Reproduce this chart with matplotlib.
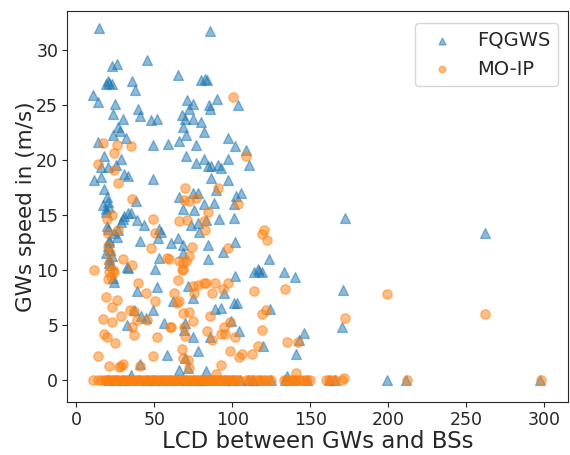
import matplotlib
matplotlib.use("Agg")
import matplotlib.pyplot as plt
import seaborn as sns
import numpy as np

# FQGWS points (LCD, speed)
fq_points = [
    (14.7, 32.0), (85.8, 31.8), (45.2, 29.1), (22.9, 28.6), (25.8, 28.8), (20.0, 27.2), (19.0, 26.9),
    (22.9, 26.9), (21.2, 27.0), (35.7, 27.2), (37.6, 26.4), (10.7, 25.9), (13.7, 25.3), (24.8, 25.1),
    (23.7, 24.2), (29.9, 23.8), (39.5, 24.7), (40.8, 24.0), (47.9, 23.7), (51.9, 23.8), (26.5, 23.0),
    (28.0, 22.7), (23.7, 22.3), (31.9, 22.0), (13.7, 21.7), (48.9, 21.4), (59.0, 21.5),
    (64.9, 27.8), (79.9, 27.3), (82.7, 27.4), (83.5, 27.3), (89.9, 25.6), (103.8, 25.0), (70.7, 25.5),
    (74.5, 25.1), (72.0, 24.7), (84.8, 25.0), (85.9, 24.7), (67.7, 24.1), (69.9, 23.8), (74.5, 23.8),
    (79.9, 23.5), (68.2, 23.0), (70.3, 22.3), (81.6, 22.6), (66.0, 21.8), (76.7, 21.4), (97.0, 22.0),
    (101.9, 21.3),
    (17.9, 20.4), (28.6, 20.1), (15.8, 19.4), (20.1, 19.4), (25.4, 19.6), (30.3, 18.8), (32.9, 18.6),
    (11.5, 18.2), (15.8, 18.5), (48.9, 18.3), (17.5, 17.4), (19.4, 16.7), (20.1, 16.2), (16.9, 15.9),
    (21.2, 15.8), (19.0, 15.6), (38.2, 16.3), (32.9, 15.2), (35.1, 15.2), (30.8, 14.9), (28.7, 14.4),
    (38.9, 14.6), (43.6, 14.1), (54.3, 13.5), (52.1, 12.9), (19.4, 14.0), (24.4, 13.4), (25.8, 13.0),
    (20.7, 12.6), (20.1, 12.2), (21.6, 11.8), (22.9, 11.3), (21.2, 10.7), (40.8, 12.7), (60.7, 12.5),
    (53.2, 11.1), (32.5, 10.3), (50.6, 10.1),
    (108.8, 20.9), (70.3, 20.4), (76.7, 19.8), (81.6, 20.1), (84.2, 19.5), (86.3, 19.5), (90.6, 19.6),
    (92.7, 19.3), (97.0, 20.1), (110.9, 19.6), (86.3, 18.4), (97.0, 18.2), (89.5, 17.3), (74.6, 17.0),
    (77.8, 17.0), (102.4, 16.8), (105.6, 17.0), (66.0, 16.7), (82.0, 16.0), (88.5, 16.1), (101.3, 16.0),
    (68.1, 15.6), (75.6, 15.5), (91.7, 14.7), (100.8, 14.8), (83.1, 14.6), (73.5, 14.1), (77.8, 14.3),
    (78.8, 13.5), (64.9, 12.9), (68.1, 12.3), (84.2, 12.3), (101.9, 12.6), (93.8, 11.7), (68.1, 11.6),
    (84.2, 11.0), (116.2, 10.1),
    (19.0, 15.3), (20.1, 13.8), (20.7, 12.8), (19.0, 11.6), (20.7, 11.0), (22.2, 10.5), (23.3, 9.3),
    (29.7, 14.7), (53.2, 13.8), (26.5, 13.7),
    (23.9, 8.9), (32.9, 10.2), (38.7, 8.1), (51.7, 8.5), (37.2, 6.4), (41.4, 5.8), (44.6, 5.7),
    (48.9, 6.4), (32.5, 5.0), (56.4, 5.2), (61.7, 7.2), (57.9, 2.3), (40.8, 1.5), (35.0, 0.5),
    (101.9, 9.5), (114.1, 9.8), (117.3, 9.9), (71.3, 8.55), (75.0, 7.5), (94.9, 7.9), (89.1, 6.5),
    (92.7, 6.6), (100.8, 7.0), (103.0, 7.0), (69.9, 5.2), (99.2, 5.4), (104.0, 4.5), (69.2, 4.6),
    (75.0, 3.9), (85.7, 3.9), (77.8, 2.7), (119.4, 3.1), (66.0, 0.9), (83.1, 0.8), (69.5, 2.0),
    (71.8, 1.1),
    (172.2, 14.8), (262.2, 13.4), (123.5, 11.0), (119.0, 9.8), (132.9, 9.8), (140.2, 9.4),
    (171.2, 8.25), (124.2, 6.5), (146.2, 4.3), (142.9, 3.7), (170.1, 4.8), (140.8, 2.4), (135.0, 0.4),
]
fq_zero_x = [20, 25, 30, 34, 40, 45, 50, 55, 60, 65, 70, 75, 80, 82, 88, 95, 100, 105, 110, 113,
             118, 125, 134, 140, 148, 162, 166, 198.9, 211.5, 297.5]

# MO-IP points (LCD, speed)
mo_points = [
    (100.6, 25.8), (16.9, 21.6), (25.8, 21.4), (35.0, 21.3), (23.9, 20.7), (13.7, 19.7), (23.9, 19.1),
    (26.5, 17.9), (35.4, 16.5), (22.6, 15.0), (19.4, 14.7), (48.9, 14.7), (50.6, 13.4), (26.9, 13.7),
    (20.1, 13.4), (20.1, 12.2), (21.6, 11.6), (20.7, 10.7), (29.7, 11.0), (35.7, 10.5), (47.9, 12.0),
    (57.9, 11.1), (11.5, 10.0), (23.3, 10.0),
    (108.8, 20.4), (69.7, 17.5), (90.6, 17.5), (69.2, 16.4), (72.0, 16.3), (76.7, 16.6), (103.8, 16.0),
    (84.2, 15.3), (65.6, 14.5), (70.7, 14.6), (81.6, 14.5), (82.7, 13.7), (120.1, 13.7), (119.0, 13.3),
    (122.2, 12.8), (97.0, 12.0), (73.9, 12.1), (72.0, 11.3), (66.0, 10.8), (68.1, 10.7), (70.3, 10.8),
    (68.1, 10.1), (59.6, 11.0),
    (20.7, 9.8), (23.9, 9.8), (20.1, 9.2), (22.2, 9.5), (39.7, 8.8), (44.6, 7.9), (19.0, 7.6),
    (25.8, 7.3), (22.9, 6.7), (50.6, 7.2), (34.6, 6.4), (36.7, 6.3), (28.6, 5.8), (16.9, 5.6),
    (22.9, 5.3), (38.7, 5.5), (45.3, 5.5), (35.7, 4.8), (36.7, 4.1), (17.5, 4.2), (19.7, 3.9),
    (24.8, 3.4), (51.7, 3.9), (60.0, 4.8), (13.7, 2.2), (48.9, 2.2), (20.7, 1.3), (27.1, 1.2),
    (28.6, 1.3), (30.1, 1.5), (40.8, 1.3),
    (67.7, 10.0), (64.9, 9.1), (74.6, 8.6), (77.8, 8.7), (82.0, 8.85), (83.1, 8.8), (88.9, 8.85),
    (97.0, 8.85), (93.8, 8.3), (87.0, 7.9), (75.6, 7.9), (114.1, 8.1), (62.8, 7.9), (65.6, 7.2),
    (64.3, 7.0), (68.1, 6.1), (72.0, 6.2), (85.9, 5.8), (75.0, 5.4), (60.7, 4.8), (69.2, 4.8),
    (83.7, 4.5), (94.9, 4.8), (92.7, 4.2), (95.5, 4.2), (101.9, 3.9), (98.7, 5.3), (87.0, 3.7),
    (69.9, 4.0), (67.7, 2.8), (98.7, 2.7), (106.2, 2.4), (104.0, 2.1), (112.6, 2.4), (119.0, 4.6),
    (118.8, 6.0), (121.6, 6.4), (116.2, 3.1), (68.1, 2.0), (71.3, 1.8), (72.0, 1.1), (92.7, 1.4),
    (89.5, 0.6),
    (134.0, 8.3), (198.9, 7.8), (262.2, 6.0), (172.0, 5.7), (135.0, 3.5), (141.9, 3.5),
    (140.8, 0.7), (171.3, 0.2),
]
mo_zero_x = [10.5, 14, 16, 17.5, 19, 20, 21, 22, 23.5, 25, 26, 27, 28.5, 30, 31, 32, 33.5, 35, 36,
             37.5, 39, 40, 41, 42.5, 44, 45, 46.5, 48, 49, 50, 51.5, 53, 54, 55.5, 57, 58, 59.5, 61,
             62, 63, 64.5, 66, 67, 68, 69.5, 71, 72, 73, 74.5, 76, 77, 78, 79.5, 81, 82, 83, 84.5, 86,
             87, 88.5, 90, 91, 92.5, 94, 95, 96.5, 98, 99, 100.5, 102, 103, 104.5, 109, 110.5, 112,
             114, 116, 118, 119.5, 121, 123, 125, 133, 134.5, 136, 137.5, 139, 141, 142.5, 144, 146,
             148, 150, 160, 162, 164, 166, 170, 212, 298]

fq_x = [p[0] for p in fq_points] + fq_zero_x
fq_y = [p[1] for p in fq_points] + [0.0] * len(fq_zero_x)
mo_x = [p[0] for p in mo_points] + mo_zero_x
mo_y = [p[1] for p in mo_points] + [0.0] * len(mo_zero_x)

sns.set_style("ticks")
plt.rcParams['font.family'] = ['DejaVu Sans']

fig, ax = plt.subplots(figsize=(5.7, 4.55), dpi=100)
fig.subplots_adjust(left=0.118, right=0.996, top=0.975, bottom=0.116)

ax.scatter(fq_x, fq_y, marker='^', s=50, color='#1f77b4', alpha=0.5, label='FQGWS')
ax.scatter(mo_x, mo_y, marker='o', s=45, color='#ff7f0e', alpha=0.5, label='MO-IP')

ax.set_xlim(-5.8, 315)
ax.set_ylim(-2.0, 33.55)
ax.set_xticks([0, 50, 100, 150, 200, 250, 300])
ax.set_yticks([0, 5, 10, 15, 20, 25, 30])
ax.tick_params(labelsize=12.5, pad=3)
ax.set_xlabel('LCD between GWs and BSs', fontsize=16.5, labelpad=0.5)
ax.set_ylabel('GWs speed in (m/s)', fontsize=15.5, labelpad=0)
ax.legend(loc='upper right', bbox_to_anchor=(1.0, 0.995), fontsize=14, markerscale=0.7)

fig.savefig('out.png', dpi=100)
